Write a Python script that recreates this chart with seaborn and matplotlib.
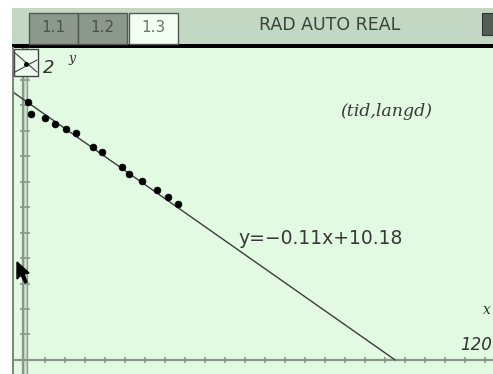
import numpy as np
import pandas as pd
import matplotlib
matplotlib.use("Agg")
import matplotlib.pyplot as plt
from matplotlib.patches import Rectangle, Polygon
import seaborn as sns

# ── DATA ──────────────────────────────────────────────────────────────────────

tid   = [0.8, 1.5, 5.0, 7.5, 10.25, 12.75, 17.1, 19.2, 24.2, 26.1, 29.2, 32.9, 35.7, 38.2]
langd = [10.13, 9.67, 9.48, 9.25, 9.06, 8.89, 8.34, 8.17, 7.58, 7.29, 7.02, 6.67, 6.38, 6.12]

SLOPE     = -0.11
INTERCEPT = 10.18

X_TICKS = list(range(5, 120, 5))
Y_TICKS = list(range(1, 13))

TABS = ["1.1", "1.2", "1.3"]

# ── STYLE ─────────────────────────────────────────────────────────────────────

W, H = 493, 374
BG     = "#e1fae1"
BAR    = "#c3d8c3"
AXIS   = "#8a968a"
TAB_DK = "#8d988d"

sns.set_theme(style="white")
plt.rcParams["font.family"] = ["DejaVu Sans"]

fig = plt.figure(figsize=(W / 100, H / 100), dpi=100)
fig.patch.set_facecolor("white")

# main graph window (pixel box 14..493 x 48..374)
ax = fig.add_axes([14 / W, 0, (W - 14) / W, (H - 48) / H])
ax.set_facecolor(BG)
ax.set_xlim(-2.75, 117)
ax.set_ylim(-0.55, 12.24)
for s in ax.spines.values():
    s.set_visible(False)
ax.set_xticks([])
ax.set_yticks([])

# axes: y axis drawn as a hollow double line
ax.axvline(0, color=AXIS, lw=4.5, zorder=1)
ax.axvline(0, color="#cfe3cf", lw=1.8, zorder=1)
ax.axhline(0, color=AXIS, lw=1.6, zorder=1)
ax.plot([0] * len(Y_TICKS), Y_TICKS, ls="none", marker="_", ms=7,
        mew=1.2, color=AXIS, zorder=1)
ax.plot(X_TICKS, [0] * len(X_TICKS), ls="none", marker="|", ms=5,
        mew=1.2, color=AXIS, zorder=1)

# regression line, drawn down to where it meets the x axis
x_end = -INTERCEPT / SLOPE
fit = pd.DataFrame({"x": [-2.75, x_end]})
fit["y"] = SLOPE * fit["x"] + INTERCEPT
sns.lineplot(data=fit, x="x", y="y", ax=ax, color="#3c3c3c", lw=1.0,
             zorder=2, legend=False)

pts = pd.DataFrame({"tid": tid, "langd": langd})
sns.scatterplot(data=pts, x="tid", y="langd", ax=ax, color="black", s=24,
                edgecolor="black", linewidth=0.5, zorder=3, legend=False)
ax.set_xlabel("")
ax.set_ylabel("")

# labels inside the graph
ax.text(78.8, 9.73, "(tid,langd)", fontsize=12.5, style="italic",
        family="DejaVu Serif", color="#383838", ha="left", va="center")
ax.text(53.3, 4.75, "y=−0.11x+10.18", fontsize=13.5, color="#383838",
        ha="left", va="center")

# ── SCREEN CHROME (pixel overlay) ─────────────────────────────────────────────

ov = fig.add_axes([0, 0, 1, 1], facecolor="none")
ov.set_xlim(0, W)
ov.set_ylim(H, 0)
ov.axis("off")

ov.add_patch(Rectangle((12, 8), W - 12, 36, color=BAR, lw=0))
ov.add_patch(Rectangle((12, 43.5), W - 12, 4, color="black", lw=0))
ov.add_patch(Rectangle((12, 47), 2, H - 47, color="#7d887d", lw=0))

tab_x = [29, 78, 129]
for i, (x0, lab) in enumerate(zip(tab_x, TABS)):
    active = i == len(TABS) - 1
    ov.add_patch(Rectangle((x0, 13), 49, 31, facecolor="#f3fff3" if active else TAB_DK,
                           edgecolor="#505850", lw=1.0))
    ov.text(x0 + 24.5, 27.5, lab, fontsize=11, ha="center", va="center",
            color="#6a726a" if active else "#4a524a")

ov.text(330, 25, "RAD AUTO REAL", fontsize=12.5, ha="center", va="center",
        color="#3a403a")
ov.add_patch(Rectangle((482, 13), 14, 22, facecolor="#555b55", edgecolor="#333", lw=0.8))

# graph tool icon at top-left
ov.add_patch(Rectangle((14, 49), 24, 27, facecolor="#eefaee", edgecolor="#444", lw=1.0))
ov.plot([15, 37], [53, 72], color="#444", lw=0.8)
ov.plot([15, 37], [72, 60], color="#444", lw=0.8)
ov.plot([26], [64], marker="o", ms=2.5, color="black")

ov.text(43, 68, "2", fontsize=13, style="italic", color="#303030", ha="left", va="center")
ov.text(68, 58, "y", fontsize=9, style="italic", family="DejaVu Serif",
        color="#303030", ha="left", va="center")
ov.text(483, 310, "x", fontsize=10, style="italic", family="DejaVu Serif",
        color="#303030", ha="left", va="center")
ov.text(492, 345, "120", fontsize=12, style="italic", color="#303030",
        ha="right", va="center")

# mouse pointer
ov.add_patch(Polygon([[17, 262], [17, 279], [21, 275], [25, 283], [27, 282],
                      [24, 274], [29, 273]], closed=True, color="black"))

fig.savefig("out.png", dpi=100, facecolor="white")
